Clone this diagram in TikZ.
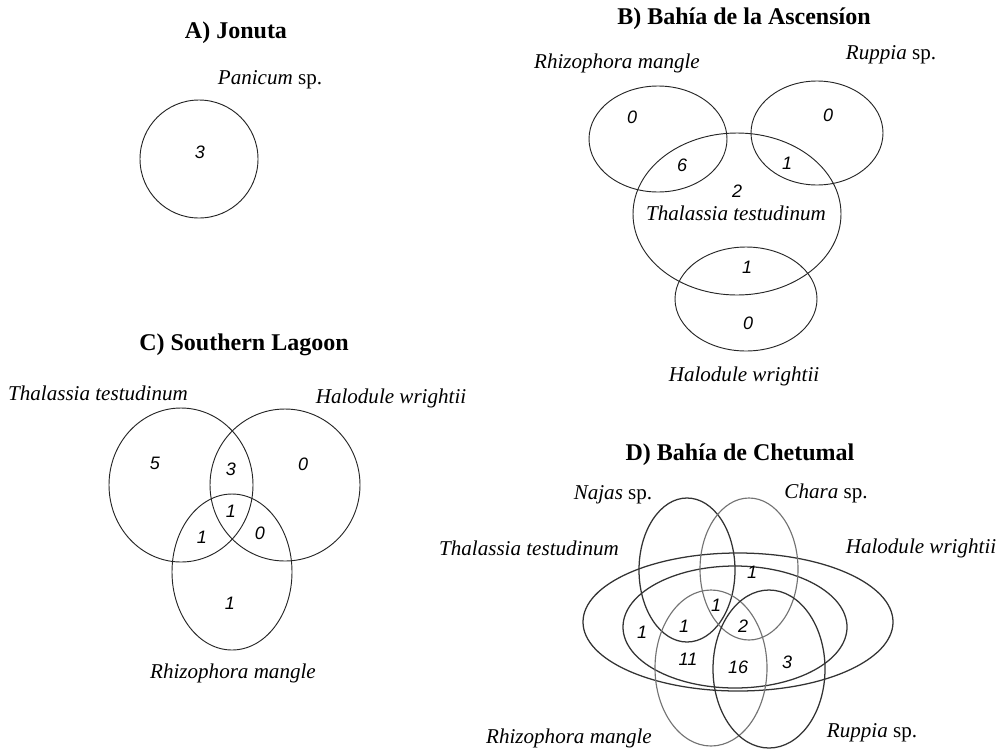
\documentclass[tikz,border=0pt]{standalone}
\usepackage{fontspec}
\setmainfont{Liberation Serif}
\newfontfamily\numfont{Liberation Sans}
\usepackage{xcolor}
\usetikzlibrary{positioning}

\tikzset{
  venn/.style={draw=black!85, line width=0.7pt},
  venndark/.style={draw=black!80, line width=0.95pt},
  venngray/.style={draw=black!55, line width=0.85pt},
  paneltitle/.style={font=\fontsize{18}{21}\selectfont\bfseries, inner sep=0pt},
  species/.style={font=\fontsize{15.8}{18}\selectfont\itshape, inner sep=0pt},
  count/.style={font=\fontsize{13.5}{15}\selectfont\numfont\itshape, inner sep=0pt},
}

\begin{document}
\begin{tikzpicture}[x=0.75pt,y=-0.75pt]
\useasboundingbox (0,0) rectangle (1005,750);

% A) Jonuta
\node[paneltitle] (titleA) at (236,33) {A) Jonuta};
\node[species] (panicumA) at (270,80) {Panicum \upshape sp.};
\draw[venn] (199,159) circle[radius=59];
\node[count] (cA1) at (200,152) {3};

% B) Bahia de la Ascension
\node[paneltitle] (titleB) at (744,19) {B) Bahía de la Ascensíon};
\node[species] (rhizB) at (617,63) {Rhizophora mangle};
\node[species] (ruppB) at (891,55) {Ruppia \upshape sp.};
\node[species] (thalB) at (736,213) {Thalassia testudinum};
\node[species] (haloB) at (744,376) {Halodule wrightii};
\draw[venn] (658,139) ellipse[x radius=69, y radius=53];
\draw[venn] (817,133) ellipse[x radius=66, y radius=52];
\draw[venn] (737,214) ellipse[x radius=104, y radius=81];
\draw[venn] (746,299) ellipse[x radius=71, y radius=52];
\foreach \x/\y/\n [count=\i] in {
    632/117/0, 682/165/6, 787/163/1, 828/115/0,
    737/191/2, 747/267/1, 748/323/0
} {
    \node[count] (cB\i) at (\x,\y) {\n};
}

% C) Southern Lagoon
\node[paneltitle] (titleC) at (244,345) {C) Southern Lagoon};
\node[species] (thalC) at (98,393) {Thalassia testudinum};
\node[species] (haloC) at (391,398) {Halodule wrightii};
\node[species] (rhizC) at (233,673) {Rhizophora mangle};
\draw[venn] (181,485) ellipse[x radius=72, y radius=77];
\draw[venn] (285,485) ellipse[x radius=75, y radius=76];
\draw[venn] (232,572) ellipse[x radius=60, y radius=78];
\foreach \x/\y/\n [count=\i] in {
    155/463/5, 231/469/3, 303/464/0, 231/511/1,
    202/537/1, 260/533/0, 230/603/1
} {
    \node[count] (cC\i) at (\x,\y) {\n};
}

% D) Bahia de Chetumal
\node[paneltitle] (titleD) at (740,455) {D) Bahía de Chetumal};
\node[species] (najasD) at (613,495) {Najas \upshape sp.};
\node[species] (charaD) at (826,493) {Chara \upshape sp.};
\node[species] (thalD) at (529,548) {Thalassia testudinum};
\node[species] (haloD) at (921,548) {Halodule wrightii};
\node[species] (rhizD) at (569,738) {Rhizophora mangle};
\node[species] (ruppD) at (872,733) {Ruppia \upshape sp.};
\draw[venndark] (738,622) ellipse[x radius=155, y radius=69];
\draw[venndark] (735,627) ellipse[x radius=112, y radius=61];
\draw[venndark] (687,570) ellipse[x radius=48, y radius=72];
\draw[venngray] (749,569) ellipse[x radius=49, y radius=71];
\draw[venngray] (711,668) ellipse[x radius=56, y radius=78];
\draw[venndark] (769,669) ellipse[x radius=56, y radius=79];
\foreach \x/\y/\n [count=\i] in {
    752/572/1, 716/605/1, 684/626/1, 743/626/2,
    642/632/1, 688/659/11, 738/667/16, 787/662/3
} {
    \node[count] (cD\i) at (\x,\y) {\n};
}
\end{tikzpicture}
\end{document}
